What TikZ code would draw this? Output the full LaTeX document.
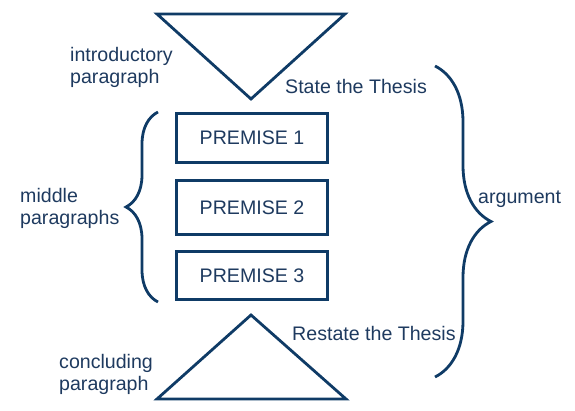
\documentclass[tikz,border=0pt]{standalone}
\usepackage{fontspec}
\setmainfont{Liberation Sans}
\usepackage{tikz}
\usetikzlibrary{positioning,decorations.pathreplacing}
\definecolor{navy}{HTML}{0F3B66}
\definecolor{inktext}{HTML}{1E3A5F}

\begin{document}
\begin{tikzpicture}[
        x=1pt, y=-1pt, % pixel units, y grows downwards
        every node/.style={font=\fontsize{19.6}{22}\selectfont, text=inktext},
        premise/.style={draw=navy, line width=2.8pt, minimum width=151.5pt},
        lbl/.style={inner sep=0pt, align=left},
        shape line/.style={draw=navy, line width=2.8pt},
        curly/.style={shape line, decorate, decoration={brace, amplitude=#1}},
    ]
        \useasboundingbox (0,0) rectangle (575,411);

        % Triangles
        \draw[shape line] (157,14) -- (345,14) -- (251,99) -- cycle;
        \draw[shape line] (251,315) -- (346,399) -- (157,399) -- cycle;

        % Nodes
        \node[premise, minimum height=49.25pt] (p1) at (252,138.1) {PREMISE 1};
        \node[premise, minimum height=54pt] (p2) at (252,207.5) {PREMISE 2};
        \node[premise, minimum height=48.5pt] (p3) at (252,275.5) {PREMISE 3};

        % Labels
        \node[lbl, anchor=west] (intro) at (70,67) {introductory\\paragraph};
        \node[lbl, anchor=west] (middle) at (20,208.5) {middle\\paragraphs};
        \node[lbl, anchor=west] (concl) at (59,374.5) {concluding\\paragraph};
        \node[lbl, anchor=base west] (state) at (285,94) {State the Thesis};
        \node[lbl, anchor=base west] (restate) at (292,340) {Restate the Thesis};
        \node[lbl, anchor=base west] (arg) at (478,204) {argument};

        % Braces
        \coordinate (lb top) at (158,112);
        \coordinate (lb bot) at (158,302);
        \coordinate (rb top) at (435,66);
        \coordinate (rb bot) at (435,377);
        \draw[curly=32pt] (lb bot) -- (lb top);
        \draw[curly=56pt] (rb top) -- (rb bot);

    \end{tikzpicture}
\end{document}
